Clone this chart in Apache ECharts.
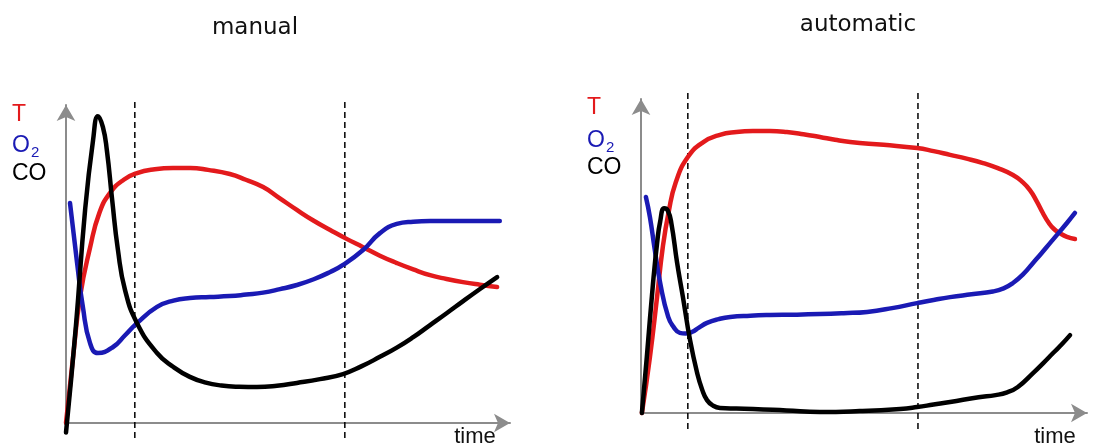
<!DOCTYPE html>
<html>
<head>
<meta charset="utf-8">
<script src="https://cdn.jsdelivr.net/npm/echarts@6/dist/echarts.min.js"></script>
<style>
html,body{margin:0;padding:0;background:#fff;}
#chart{width:1103px;height:446px;}
</style>
</head>
<body>
<div id="chart"></div>
<script>
// Panel titles and labels
const panelTitles = ['manual', 'automatic'];
const seriesNames = ['T', 'O2', 'CO'];
const axisLabel = 'time';

// Normalised time (0-100) / value (0-100)
const manualT = [[0,0],[1.6,20.8],[3.2,40],[5.4,55],[7.5,66],[10,72.5],[13,76.5],[16,78.6],[20,79.8],[24.1,80.2],[28,80.2],[32,79.6],[36.9,78.3],[40.5,76.5],[44.4,74.2],[48,70.8],[52,67],[55.8,63.6],[59.5,60.7],[63.2,57.9],[66.9,55.3],[70.7,52.6],[74.5,50.3],[78.2,48.3],[82,46.5],[85.7,45.3],[89.4,44.3],[93.2,43.5],[97.1,42.8]];
const manualO2 = [[0.9,69.2],[2.5,50.3],[3.8,36.5],[5.4,25.2],[7.2,22],[10.6,23.9],[13.3,27.6],[16,31.4],[20.5,36.5],[24.2,38.5],[27.9,39.3],[32.4,39.6],[36.9,39.9],[40.6,40.4],[44.4,41],[48.2,42.1],[52,43.4],[55.8,45.2],[59.5,47.5],[62.4,49.7],[66.9,54.4],[70.7,59.7],[74.5,62.6],[78.2,63.3],[82,63.5],[97.7,63.5]];
const manualCO = [[0,-3],[2.2,30],[4.3,67],[6.1,89],[7.2,96.5],[8.3,93.1],[9.2,85.8],[10.4,70.1],[11.7,54.4],[13.3,41.8],[16,31.4],[20.5,22],[24.2,17.6],[27.9,14.5],[31.5,12.7],[35,11.8],[39,11.4],[43,11.3],[47.5,11.7],[52,12.6],[57.2,13.8],[62.4,15.4],[66.5,17.8],[70.7,20.8],[74.5,23.7],[78.2,27],[82,30.8],[85.8,34.6],[89.6,38.5],[93.4,42.3],[97.1,45.9]];
const manualPhases = [15.5, 62.8];

const autoT = [[0.2,0],[2,17.8],[3.6,36.9],[4.9,53],[6.2,64],[7.8,73.5],[10.5,81.5],[13.9,86.2],[17.7,88.6],[21.4,89.5],[25.1,89.8],[28.9,89.8],[32.7,89.5],[36.4,88.8],[40.1,87.9],[43.5,87],[46.9,86.3],[54.4,85.4],[61.9,84.4],[65.6,83.4],[69.3,82.2],[73,81],[76.7,79.6],[80,78],[83.4,75.8],[85.5,73.6],[87.2,71],[88.7,67.5],[90.1,63.7],[91.3,60.8],[92.6,58.6],[94,57.2],[95.5,56.1],[97.3,55.4]];
const autoO2 = [[1.1,68.8],[2,62.4],[3.1,51.9],[4.3,41.4],[6.1,30.6],[7.4,27.2],[8.7,25.5],[10,25.3],[11.4,25.8],[13,27.2],[14.8,28.7],[17.4,29.9],[20,30.6],[24.5,31],[28.9,31.2],[34.5,31.3],[40.1,31.5],[45.4,31.8],[50.7,32.2],[56.3,33.4],[61.9,35],[65.6,36],[69.3,36.9],[74.1,37.8],[78.9,38.7],[81.3,39.7],[83.4,41.4],[85.7,44.2],[87.9,47.8],[89.8,50.9],[91.7,54.1],[93.6,57.3],[95.5,60.5],[97.3,63.7]];
const autoCO = [[0.2,0],[1.3,17.8],[2.7,41.4],[3.6,54],[4.3,61],[5.2,65.2],[6,64.5],[6.8,60.5],[8.1,47.8],[9.4,36.9],[11,23.2],[12.6,12.7],[13.7,7.5],[14.8,4.1],[16.2,2.3],[17.7,1.6],[21.4,1.4],[25.1,1.3],[32.6,0.8],[40.1,0.3],[49,0.6],[58.1,1.3],[61.9,1.9],[65.6,2.7],[69.3,3.5],[75.7,5],[79.5,5.7],[82.1,6.6],[84.5,8.3],[87.9,12.7],[90.2,15.9],[92.4,19.1],[94.3,21.8],[96.2,24.8]];
const autoPhases = [10.5, 62.1];

const colors = { T: '#e31a1c', O2: '#1a1ab4', CO: '#000000' };
const axisColor = '#8c8c8c';

function axis(gridIndex) {
  return {
    type: 'value', gridIndex: gridIndex, min: 0, max: 100,
    axisLine: { show: true, onZero: false, symbol: ['none', 'arrow'], symbolSize: [14, 16],
      lineStyle: { color: axisColor, width: 2 } },
    axisTick: { show: false }, axisLabel: { show: false }, splitLine: { show: false }
  };
}

function curve(name, data, idx) {
  return {
    type: 'line', name: name, data: data, xAxisIndex: idx, yAxisIndex: idx,
    smooth: 0.5, showSymbol: false, clip: false, z: 3,
    lineStyle: { color: colors[name], width: 4.5, cap: 'round', join: 'round' }
  };
}

function phaseLine(x, y0, y1, idx) {
  return {
    type: 'line', data: [[x, y0], [x, y1]], xAxisIndex: idx, yAxisIndex: idx,
    showSymbol: false, clip: false, z: 2, silent: true,
    lineStyle: { color: '#000', width: 1.5, type: [6, 4] }
  };
}

const chart = echarts.init(document.getElementById('chart'), null, { renderer: 'canvas' });

const legendFont = '"Liberation Sans", Arial, sans-serif';
function legendTexts(x, yT, yO, yCO) {
  return [
    { type: 'text', left: x, top: yT - 12, style: { text: seriesNames[0], fill: colors.T, font: '23px ' + legendFont } },
    { type: 'text', left: x, top: yO - 12, style: { text: 'O', fill: colors.O2, font: '23px ' + legendFont } },
    { type: 'text', left: x + 19, top: yO - 1, style: { text: '2', fill: colors.O2, font: '15px ' + legendFont } },
    { type: 'text', left: x, top: yCO - 12, style: { text: seriesNames[2], fill: colors.CO, font: '23px ' + legendFont } }
  ];
}

const graphics = [
  { type: 'text', x: 255, y: 28, style: { text: panelTitles[0], fill: '#111', font: '23px "DejaVu Sans", sans-serif', textAlign: 'center', textVerticalAlign: 'middle' } },
  { type: 'text', x: 858, y: 25, style: { text: panelTitles[1], fill: '#111', font: '23px "DejaVu Sans", sans-serif', textAlign: 'center', textVerticalAlign: 'middle' } },
  { type: 'text', x: 475, y: 437, style: { text: axisLabel, fill: '#111', font: '22px ' + legendFont, textAlign: 'center', textVerticalAlign: 'middle' } },
  { type: 'text', x: 1055, y: 437, style: { text: axisLabel, fill: '#111', font: '22px ' + legendFont, textAlign: 'center', textVerticalAlign: 'middle' } }
].concat(legendTexts(12, 115, 146, 174)).concat(legendTexts(587, 108, 141, 168));

chart.setOption({
  animation: false,
  grid: [
    { left: 66, top: 105, width: 444, height: 318 },
    { left: 641, top: 99, width: 446, height: 314 }
  ],
  xAxis: [axis(0), axis(1)],
  yAxis: [axis(0), axis(1)],
  graphic: graphics,
  series: [
    phaseLine(manualPhases[0], -4.7, 101.5, 0),
    phaseLine(manualPhases[1], -4.7, 101.5, 0),
    phaseLine(autoPhases[0], -5.1, 102, 1),
    phaseLine(autoPhases[1], -5.1, 102, 1),
    curve('T', manualT, 0),
    curve('O2', manualO2, 0),
    curve('CO', manualCO, 0),
    curve('T', autoT, 1),
    curve('O2', autoO2, 1),
    curve('CO', autoCO, 1)
  ]
});
</script>
</body>
</html>
